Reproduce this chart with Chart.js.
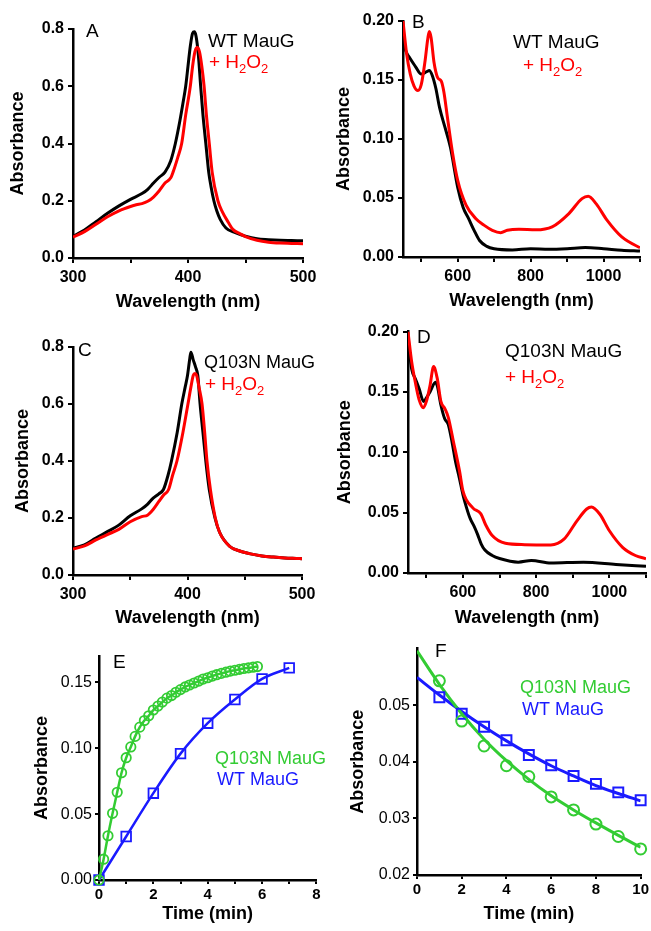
<!DOCTYPE html>
<html>
<head>
<meta charset="utf-8">
<script src="https://cdn.jsdelivr.net/npm/chart.js@4.4.1/dist/chart.umd.min.js"></script>
<style>
  body { margin: 0; background: #fff; }
  #figure { position: relative; width: 651px; height: 931px; overflow: hidden; }
  #figure canvas { position: absolute; }
</style>
</head>
<body>
<div id="figure">
  <canvas id="panelA" width="325" height="318" style="left:0;top:0"></canvas>
  <canvas id="panelB" width="326" height="318" style="left:325px;top:0"></canvas>
  <canvas id="panelC" width="325" height="318" style="left:0;top:318px"></canvas>
  <canvas id="panelD" width="326" height="318" style="left:325px;top:318px"></canvas>
  <canvas id="panelE" width="325" height="295" style="left:0;top:636px"></canvas>
  <canvas id="panelF" width="326" height="295" style="left:325px;top:636px"></canvas>
</div>
<script>
// Fonts and colours
const FONT = '"Liberation Sans", Arial, sans-serif';
const BLACK = '#000000';
const RED = '#ff0000';
const GREEN = '#33cc33';
const BLUE = '#1a1aff';

// Panel A - WT MauG Soret region
const wlA_wt = [300, 310, 320, 330, 340, 350, 360, 365, 370, 375, 380, 385, 389, 393, 396, 398, 400, 402, 404, 405.5, 407, 409, 411, 413, 415.5, 418, 420, 422.5, 425, 428, 433, 440, 450, 460, 470, 480, 490, 500];
const absA_wt = [0.076, 0.098, 0.127, 0.156, 0.182, 0.205, 0.225, 0.240, 0.262, 0.282, 0.300, 0.340, 0.400, 0.480, 0.550, 0.600, 0.670, 0.740, 0.785, 0.790, 0.775, 0.710, 0.600, 0.500, 0.400, 0.300, 0.250, 0.200, 0.165, 0.135, 0.105, 0.090, 0.076, 0.067, 0.064, 0.062, 0.061, 0.060];
const wlA_h2o2 = [300, 310, 320, 330, 340, 350, 355, 360, 365, 370, 375, 380, 385, 387, 391, 394.5, 398, 402, 404, 406, 408, 410, 412, 414, 416, 418.5, 421, 426, 430, 435, 439, 445, 450, 460, 470, 480, 490, 500];
const absA_h2o2 = [0.073, 0.092, 0.118, 0.144, 0.165, 0.180, 0.186, 0.190, 0.198, 0.213, 0.235, 0.262, 0.280, 0.300, 0.350, 0.400, 0.500, 0.600, 0.670, 0.720, 0.735, 0.720, 0.670, 0.600, 0.500, 0.400, 0.300, 0.200, 0.160, 0.125, 0.100, 0.085, 0.075, 0.062, 0.055, 0.052, 0.051, 0.050];

// Panel B - WT MauG visible / near-IR region
const wlB_wt = [450, 460, 470, 485, 500, 515, 522, 530, 540, 550, 565, 580, 600, 615, 630, 645, 660, 680, 700, 750, 800, 850, 900, 950, 1000, 1050, 1100];
const absB_wt = [0.181, 0.173, 0.168, 0.161, 0.155, 0.157, 0.158, 0.154, 0.143, 0.127, 0.110, 0.093, 0.059, 0.042, 0.0325, 0.0226, 0.014, 0.009, 0.007, 0.006, 0.007, 0.0065, 0.007, 0.008, 0.007, 0.0057, 0.005];
const wlB_h2o2 = [450, 460, 470, 480, 491, 500, 510, 518, 522, 527, 535, 545, 555, 562, 572, 586, 600, 623, 650, 672, 695, 718, 736, 768, 814, 859, 905, 941, 958, 980, 1010, 1050, 1096, 1100];
const absB_h2o2 = [0.200, 0.172, 0.155, 0.145, 0.141, 0.146, 0.165, 0.185, 0.191, 0.186, 0.165, 0.152, 0.149, 0.140, 0.118, 0.088, 0.065, 0.044, 0.0325, 0.027, 0.0226, 0.0206, 0.0226, 0.0235, 0.023, 0.0255, 0.0368, 0.0495, 0.0515, 0.045, 0.031, 0.017, 0.0085, 0.008];

// Panel C - Q103N MauG Soret region
const wlC_q103n = [300, 310, 320, 330, 340, 350, 360, 365, 370, 375, 379, 383, 386, 391, 395, 398, 400, 402, 403, 405, 407, 409, 411, 413.5, 416, 419, 424, 428, 437, 445, 455, 465, 475, 485, 495, 500];
const absC_q103n = [0.094, 0.106, 0.130, 0.152, 0.175, 0.208, 0.232, 0.248, 0.270, 0.285, 0.300, 0.350, 0.400, 0.500, 0.600, 0.660, 0.700, 0.760, 0.782, 0.755, 0.730, 0.700, 0.600, 0.500, 0.400, 0.300, 0.200, 0.150, 0.100, 0.085, 0.074, 0.067, 0.063, 0.060, 0.058, 0.057];
const wlC_h2o2 = [300, 310, 320, 330, 340, 350, 360, 365, 370, 375, 379, 383.5, 387, 390.8, 396, 400.4, 403, 405, 406.5, 408, 410, 412.7, 415, 417, 420, 424.3, 428, 437, 445, 455, 465, 475, 485, 495, 500];
const absC_h2o2 = [0.091, 0.102, 0.123, 0.142, 0.160, 0.187, 0.205, 0.210, 0.230, 0.258, 0.280, 0.300, 0.350, 0.400, 0.500, 0.600, 0.660, 0.700, 0.707, 0.700, 0.660, 0.600, 0.500, 0.400, 0.300, 0.200, 0.150, 0.100, 0.085, 0.074, 0.067, 0.063, 0.060, 0.058, 0.057];

// Panel D - Q103N MauG visible / near-IR region
const wlD_q103n = [450, 460, 470, 480, 493, 500, 510, 525, 530, 540, 550, 560, 570, 580, 590, 600, 610, 620, 630, 640, 650, 660, 680, 700, 751, 787, 840, 929, 1018, 1100];
const absD_q103n = [0.194, 0.169, 0.161, 0.153, 0.142, 0.145, 0.150, 0.158, 0.155, 0.139, 0.128, 0.123, 0.109, 0.092, 0.079, 0.065, 0.054, 0.045, 0.039, 0.032, 0.024, 0.019, 0.0145, 0.012, 0.009, 0.0104, 0.0082, 0.009, 0.0071, 0.0055];
const wlD_h2o2 = [450, 460, 470, 480, 492, 500, 510, 520, 530, 540, 551, 560, 574, 591, 600, 627, 649, 662, 680, 716, 769, 840, 876, 911, 938, 951, 974, 1000, 1036, 1071, 1100];
const absD_h2o2 = [0.200, 0.175, 0.158, 0.144, 0.137, 0.142, 0.155, 0.171, 0.161, 0.142, 0.136, 0.129, 0.109, 0.084, 0.068, 0.054, 0.049, 0.040, 0.031, 0.0246, 0.0235, 0.0233, 0.028, 0.043, 0.053, 0.0547, 0.0487, 0.035, 0.0213, 0.0145, 0.0118];

// Panel E - absorbance increase vs time
const timeE_q103n = [0, 0.17, 0.33, 0.5, 0.67, 0.83, 1.0, 1.17, 1.33, 1.5, 1.67, 1.83, 2.0, 2.17, 2.33, 2.5, 2.67, 2.83, 3.0, 3.17, 3.33, 3.5, 3.67, 3.83, 4.0, 4.17, 4.33, 4.5, 4.67, 4.83, 5.0, 5.17, 5.33, 5.5, 5.67, 5.83];
const absE_q103n = [0, 0.0158, 0.0336, 0.0506, 0.0666, 0.0814, 0.0928, 0.101, 0.109, 0.116, 0.121, 0.1246, 0.129, 0.132, 0.135, 0.138, 0.140, 0.1425, 0.1445, 0.1465, 0.148, 0.1495, 0.151, 0.1525, 0.1535, 0.1548, 0.1558, 0.1568, 0.1577, 0.1585, 0.1592, 0.1599, 0.1605, 0.161, 0.1615, 0.162];
const timeE_wt = [0, 1, 2, 3, 4, 5, 6, 7];
const absE_wt = [0, 0.033, 0.0659, 0.0959, 0.119, 0.137, 0.1526, 0.161];

// Panel F - absorbance decay vs time (points and fitted lines)
const timeF = [1, 2, 3, 4, 5, 6, 7, 8, 9, 10];
const absF_q103n = [0.0543, 0.0472, 0.0428, 0.0393, 0.0374, 0.0338, 0.0315, 0.029, 0.0268, 0.0246];
const absF_wt = [0.0514, 0.0485, 0.0462, 0.0438, 0.0412, 0.0394, 0.0375, 0.0361, 0.0346, 0.0332];
const fitTimeF = [0, 1, 2, 3, 4, 5, 6, 7, 8, 9, 10];
const fitF_q103n = [0.0596, 0.0537, 0.0485, 0.0440, 0.0402, 0.0369, 0.0340, 0.0315, 0.0292, 0.0270, 0.0249];
const fitF_wt = [0.0549, 0.0518, 0.0489, 0.0462, 0.0437, 0.0414, 0.0393, 0.0375, 0.0358, 0.0344, 0.0331];

// Tick positions and labelled ticks
const xTicksA = [300, 350, 400, 450, 500];
const xLabelsA = [300, 400, 500];
const yTicksA = [0, 0.2, 0.4, 0.6, 0.8];
const xTicksB = [500, 600, 700, 800, 900, 1000, 1100];
const xLabelsB = [600, 800, 1000];
const yTicksB = [0, 0.05, 0.1, 0.15, 0.2];
const xTicksE = [0, 1, 2, 3, 4, 5, 6, 7, 8];
const xLabelsE = [0, 2, 4, 6, 8];
const yTicksE = [0, 0.05, 0.1, 0.15];
const xTicksF = [0, 2, 4, 6, 8, 10];
const yTicksF = [0.02, 0.03, 0.04, 0.05];

// Text drawn over each panel (letter + legend)
const H2O2 = [['+ H', false], ['2', true], ['O', false], ['2', true]];
const notes = {
  panelA: [
    { parts: [['A', false]], x: 86, y: 37, size: 19, color: BLACK },
    { parts: [['WT MauG', false]], x: 208, y: 47, size: 19, color: BLACK },
    { parts: H2O2, x: 209, y: 68, size: 19, color: RED }
  ],
  panelB: [
    { parts: [['B', false]], x: 87, y: 28, size: 19, color: BLACK },
    { parts: [['WT MauG', false]], x: 188, y: 48, size: 19, color: BLACK },
    { parts: H2O2, x: 198, y: 71, size: 19, color: RED }
  ],
  panelC: [
    { parts: [['C', false]], x: 78, y: 38, size: 19, color: BLACK },
    { parts: [['Q103N MauG', false]], x: 204, y: 50, size: 18, color: BLACK },
    { parts: H2O2, x: 205, y: 72, size: 19, color: RED }
  ],
  panelD: [
    { parts: [['D', false]], x: 92, y: 25, size: 19, color: BLACK },
    { parts: [['Q103N MauG', false]], x: 180, y: 39, size: 19, color: BLACK },
    { parts: H2O2, x: 180, y: 65, size: 19, color: RED }
  ],
  panelE: [
    { parts: [['E', false]], x: 113, y: 32, size: 19, color: BLACK },
    { parts: [['Q103N MauG', false]], x: 215, y: 128, size: 18, color: GREEN },
    { parts: [['WT MauG', false]], x: 217, y: 149, size: 18, color: BLUE }
  ],
  panelF: [
    { parts: [['F', false]], x: 110, y: 21, size: 19, color: BLACK },
    { parts: [['Q103N MauG', false]], x: 195, y: 57, size: 18, color: GREEN },
    { parts: [['WT MauG', false]], x: 197, y: 79, size: 18, color: BLUE }
  ]
};

const panelText = {
  id: 'panelText',
  afterDraw(chart) {
    const items = notes[chart.canvas.id] || [];
    const ctx = chart.ctx;
    ctx.save();
    ctx.textAlign = 'left';
    ctx.textBaseline = 'alphabetic';
    items.forEach(item => {
      let x = item.x;
      item.parts.forEach(([str, sub]) => {
        const size = sub ? Math.round(item.size * 0.68) : item.size;
        ctx.font = size + 'px ' + FONT;
        ctx.fillStyle = item.color;
        ctx.fillText(str, x, item.y + (sub ? Math.round(item.size * 0.28) : 0));
        x += ctx.measureText(str).width;
      });
    });
    ctx.restore();
  }
};

const pts = (xs, ys) => xs.map((x, i) => ({ x: x, y: ys[i] }));

// Build one axis: ticks from the arrays, fixed box size so the plot area lands where it should
function axis(o) {
  const horizontal = o.pos === 'bottom';
  return {
    type: 'linear',
    position: o.pos,
    min: o.min,
    max: o.max,
    afterBuildTicks: s => { s.ticks = o.ticks.map(v => ({ value: v })); },
    afterFit: s => { if (horizontal) s.height = o.size; else s.width = o.size; },
    ticks: {
      autoSkip: false,
      maxRotation: 0,
      color: BLACK,
      padding: o.pad,
      font: { family: FONT, size: o.fs || 16, weight: o.bold ? 'bold' : 'normal' },
      callback: v => (o.labels || o.ticks).includes(v) ? v.toFixed(o.dec) : ''
    },
    grid: { drawOnChartArea: false, drawTicks: true, tickLength: o.tick, color: BLACK, lineWidth: 2 },
    border: { display: true, color: BLACK, width: 2.5 },
    title: {
      display: true,
      text: o.title,
      color: BLACK,
      font: { family: FONT, size: 18, weight: 'bold', lineHeight: 1.2 },
      padding: horizontal ? { top: 0, bottom: o.titlePad } : { top: o.titlePad, bottom: 0 }
    }
  };
}

function spectrum(xs, ys, color) {
  return {
    data: pts(xs, ys),
    borderColor: color,
    borderWidth: 3,
    pointRadius: 0,
    cubicInterpolationMode: 'monotone'
  };
}

function panel(id, area, datasets, xAxis, yAxis) {
  const canvas = document.getElementById(id);
  return new Chart(canvas, {
    type: 'line',
    data: { datasets: datasets },
    options: {
      responsive: false,
      animation: false,
      devicePixelRatio: 1,
      events: [],
      layout: { padding: { left: 0, bottom: 0, top: area.t, right: canvas.width - area.r } },
      plugins: { legend: { display: false }, tooltip: { enabled: false } },
      scales: {
        x: axis(Object.assign({ pos: 'bottom', size: canvas.height - area.b }, xAxis)),
        y: axis(Object.assign({ pos: 'left', size: area.l }, yAxis))
      }
    },
    plugins: [panelText]
  });
}

Chart.defaults.font.family = FONT;

// A
panel('panelA', { l: 73, t: 29, r: 303, b: 258 },
  [spectrum(wlA_h2o2, absA_h2o2, RED), spectrum(wlA_wt, absA_wt, BLACK)],
  { min: 300, max: 500, ticks: xTicksA, labels: xLabelsA, dec: 0, bold: true, tick: 5, pad: 5, title: 'Wavelength (nm)', titlePad: 5 },
  { min: 0, max: 0.8, ticks: yTicksA, dec: 1, bold: true, tick: 5, pad: 4, title: 'Absorbance', titlePad: 7 });

// B
panel('panelB', { l: 78, t: 21, r: 315, b: 257 },
  [spectrum(wlB_h2o2, absB_h2o2, RED), spectrum(wlB_wt, absB_wt, BLACK)],
  { min: 450, max: 1100, ticks: xTicksB, labels: xLabelsB, dec: 0, bold: true, tick: 5, pad: 5, title: 'Wavelength (nm)', titlePad: 6 },
  { min: 0, max: 0.2, ticks: yTicksB, dec: 2, bold: true, tick: 5, pad: 4, title: 'Absorbance', titlePad: 8 });

// C
panel('panelC', { l: 73, t: 29, r: 302, b: 257 },
  [spectrum(wlC_h2o2, absC_h2o2, RED), spectrum(wlC_q103n, absC_q103n, BLACK)],
  { min: 300, max: 500, ticks: xTicksA, labels: xLabelsA, dec: 0, bold: true, tick: 5, pad: 5, title: 'Wavelength (nm)', titlePad: 7 },
  { min: 0, max: 0.8, ticks: yTicksA, dec: 1, bold: true, tick: 5, pad: 4, title: 'Absorbance', titlePad: 12 });

// D
panel('panelD', { l: 83, t: 11, r: 325.5, b: 255 },
  [spectrum(wlD_h2o2, absD_h2o2, RED), spectrum(wlD_q103n, absD_q103n, BLACK)],
  { min: 450, max: 1100, ticks: xTicksB, labels: xLabelsB, dec: 0, bold: true, tick: 5, pad: 5, title: 'Wavelength (nm)', titlePad: 7 },
  { min: 0, max: 0.2, ticks: yTicksB, dec: 2, bold: true, tick: 5, pad: 4, title: 'Absorbance', titlePad: 9 });

// E
panel('panelE', { l: 99, t: 20, r: 322, b: 244 },
  [
    {
      data: pts(timeE_q103n, absE_q103n), borderColor: GREEN, borderWidth: 2.5,
      pointStyle: 'circle', pointRadius: 4.7, pointBorderWidth: 1.8,
      pointBorderColor: GREEN, pointBackgroundColor: 'rgba(0,0,0,0)',
      cubicInterpolationMode: 'monotone', clip: false
    },
    {
      data: pts(timeE_wt, absE_wt), borderColor: BLUE, borderWidth: 2.5,
      pointStyle: 'rect', pointRadius: 6.8, pointBorderWidth: 1.8,
      pointBorderColor: BLUE, pointBackgroundColor: 'rgba(0,0,0,0)',
      cubicInterpolationMode: 'monotone', clip: false
    }
  ],
  { min: 0, max: 8, ticks: xTicksE, labels: xLabelsE, dec: 0, bold: true, fs: 15, tick: 4, pad: 2, title: 'Time (min)', titlePad: 6 },
  { min: 0, max: 0.17, ticks: yTicksE, dec: 2, bold: false, tick: 4, pad: 3, title: 'Absorbance', titlePad: 31 });

// F
panel('panelF', { l: 92, t: 12, r: 317, b: 239 },
  [
    {
      data: pts(timeF, absF_q103n), showLine: false,
      pointStyle: 'circle', pointRadius: 5.5, pointBorderWidth: 2,
      pointBorderColor: GREEN, pointBackgroundColor: 'rgba(0,0,0,0)', clip: false
    },
    {
      data: pts(timeF, absF_wt), showLine: false,
      pointStyle: 'rect', pointRadius: 7, pointBorderWidth: 2,
      pointBorderColor: BLUE, pointBackgroundColor: 'rgba(0,0,0,0)', clip: false
    },
    {
      data: pts(fitTimeF, fitF_q103n), borderColor: GREEN, borderWidth: 3,
      pointRadius: 0, cubicInterpolationMode: 'monotone'
    },
    {
      data: pts(fitTimeF, fitF_wt), borderColor: BLUE, borderWidth: 3,
      pointRadius: 0, cubicInterpolationMode: 'monotone'
    }
  ],
  { min: 0, max: 10, ticks: xTicksF, dec: 0, bold: true, fs: 15, tick: 4, pad: 2, title: 'Time (min)', titlePad: 6 },
  { min: 0.02, max: 0.06, ticks: yTicksF, dec: 2, bold: false, tick: 4, pad: 3, title: 'Absorbance', titlePad: 22 });
</script>
</body>
</html>
